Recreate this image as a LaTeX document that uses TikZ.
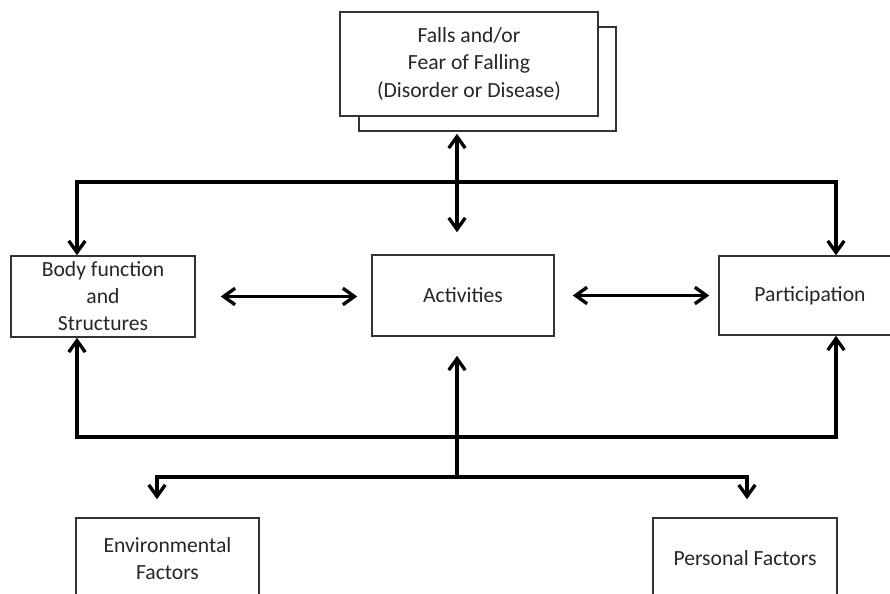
\documentclass[tikz,border=0pt]{standalone}
\usepackage{fontspec}
\setmainfont{Carlito}
\usetikzlibrary{arrows.meta}

\begin{document}
\begin{tikzpicture}[x=0.02cm,y=-0.02cm,line width=1.9pt,>={Straight Barb[length=2.3mm,width=3.3mm]},
  box/.style={draw=black!80,line width=0.9pt,fill=white,align=center,inner sep=2pt,
    font=\fontsize{12.3}{15.4}\selectfont,text=black!85}]
  \useasboundingbox (0,0) rectangle (890,594);
  \clip (0,0) rectangle (890,594);

  \node[box,minimum width=5.14cm,minimum height=2.08cm] (fallsback) at (487.5,79) {};
  \node[box,minimum width=5.16cm,minimum height=2.08cm] (falls) at (469,64)
    {Falls and/or\\Fear of Falling\\(Disorder or Disease)};
  \node[box,minimum width=3.68cm,minimum height=1.62cm] (body) at (103,296.5)
    {Body function\\and\\Structures};
  \node[box,minimum width=3.64cm,minimum height=1.62cm] (act) at (463,295.5) {Activities};
  \node[box,minimum width=3.64cm,minimum height=1.58cm] (part) at (810,295.5) {Participation};
  \node[box,minimum width=3.66cm,minimum height=1.62cm] (env) at (167.5,558.5)
    {Environmental\\Factors};
  \node[box,minimum width=3.68cm,minimum height=1.62cm] (pers) at (745,558.5) {Personal Factors};

  \coordinate (topL) at (77,182);
  \coordinate (topR) at (836,182);
  \coordinate (botL) at (77,437);
  \coordinate (botR) at (836,437);
  \coordinate (split) at (457,477);
  \coordinate (envT) at (157,477);
  \coordinate (persT) at (747,477);

  \draw[<->] ([yshift=-0.04cm]fallsback.south -| split) -- ([yshift=0.44cm]act.north -| split);
  \draw[<->] (body.north -| topL) -- (topL) -- (topR) -- (part.north -| topR);
  \draw[<->] ([xshift=0.5cm]body.east) -- ([xshift=-0.28cm]act.west |- body.east);
  \draw[<->] ([xshift=0.36cm]act.east) -- ([xshift=-0.18cm]part.west |- act.east);
  \draw[<->] (body.south -| botL) -- (botL) -- (botR) -- (part.south -| botR);
  \draw[->] (split) -- ([yshift=-0.38cm]act.south -| split);
  \draw[<->] ([yshift=0.36cm]env.north -| envT) -- (envT) -- (persT) -- ([yshift=0.36cm]pers.north -| persT);
\end{tikzpicture}
\end{document}
